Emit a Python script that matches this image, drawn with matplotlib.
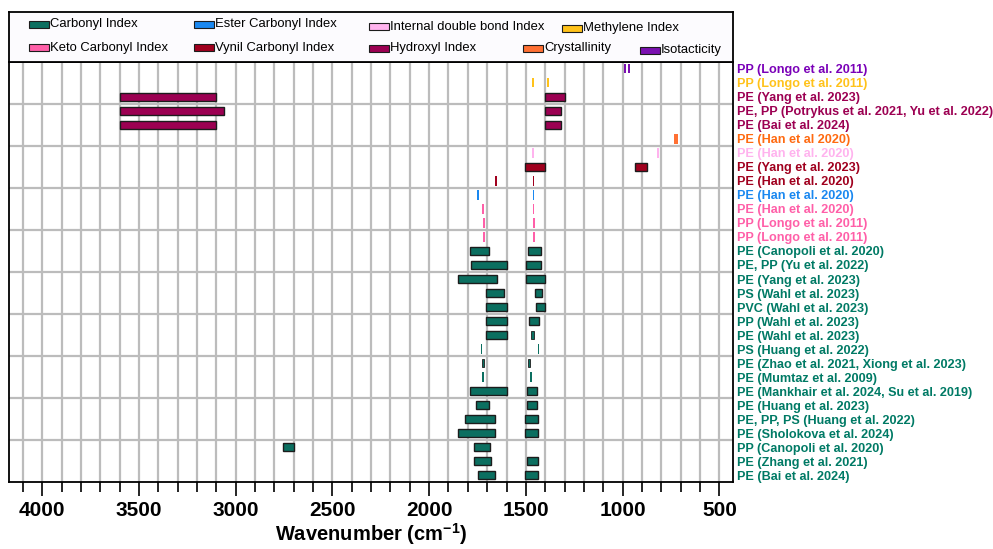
import matplotlib
matplotlib.use("Agg")
import matplotlib.pyplot as plt
from matplotlib.patches import Rectangle
from matplotlib.ticker import MultipleLocator

plt.rcParams['font.family'] = ['Liberation Sans', 'DejaVu Sans']
plt.rcParams['mathtext.default'] = 'regular'

# ---------------- data ----------------
categories = ['Carbonyl Index', 'Ester Carbonyl Index', 'Internal double bond Index',
              'Methylene Index', 'Keto Carbonyl Index', 'Vynil Carbonyl Index',
              'Hydroxyl Index', 'Crystallinity', 'Isotacticity']

row_labels = [
    'PP (Longo et al. 2011)',
    'PP (Longo et al. 2011)',
    'PE (Yang et al. 2023)',
    'PE, PP (Potrykus et al. 2021, Yu et al. 2022)',
    'PE (Bai et al. 2024)',
    'PE (Han et al 2020)',
    'PE (Han et al. 2020)',
    'PE (Yang et al. 2023)',
    'PE (Han et al. 2020)',
    'PE (Han et al. 2020)',
    'PE (Han et al. 2020)',
    'PP (Longo et al. 2011)',
    'PP (Longo et al. 2011)',
    'PE (Canopoli et al. 2020)',
    'PE, PP (Yu et al. 2022)',
    'PE (Yang et al. 2023)',
    'PS (Wahl et al. 2023)',
    'PVC (Wahl et al. 2023)',
    'PP (Wahl et al. 2023)',
    'PE (Wahl et al. 2023)',
    'PS (Huang et al. 2022)',
    'PE (Zhao et al. 2021, Xiong et al. 2023)',
    'PE (Mumtaz et al. 2009)',
    'PE (Mankhair et al. 2024, Su et al. 2019)',
    'PE (Huang et al. 2023)',
    'PE, PP, PS (Huang et al. 2022)',
    'PE (Sholokova et al. 2024)',
    'PP (Canopoli et al. 2020)',
    'PE (Zhang et al. 2021)',
    'PE (Bai et al. 2024)',
]

row_category = [
    'Isotacticity', 'Methylene Index', 'Hydroxyl Index', 'Hydroxyl Index', 'Hydroxyl Index',
    'Crystallinity', 'Internal double bond Index', 'Vynil Carbonyl Index', 'Vynil Carbonyl Index',
    'Ester Carbonyl Index', 'Keto Carbonyl Index', 'Keto Carbonyl Index', 'Keto Carbonyl Index',
] + ['Carbonyl Index'] * 17

# wavenumber ranges (high, low) drawn as boxes
row_bands = [
    [], [],
    [(3600, 3100), (1400, 1300)],
    [(3600, 3060), (1400, 1320)],
    [(3600, 3100), (1400, 1320)],
    [], [],
    [(1505, 1400), (935, 875)],
    [], [], [], [], [],
    [(1790, 1690), (1490, 1420)],
    [(1785, 1600), (1500, 1420)],
    [(1850, 1650), (1500, 1400)],
    [(1705, 1615), (1455, 1418)],
    [(1705, 1600), (1450, 1400)],
    [(1705, 1600), (1485, 1430)],
    [(1705, 1600), (1474, 1460)],
    [],
    [(1727, 1715), (1488, 1478)],
    [],
    [(1790, 1600), (1495, 1440)],
    [(1760, 1690), (1495, 1440)],
    [(1815, 1660), (1505, 1435)],
    [(1850, 1660), (1503, 1436)],
    [(2755, 2700), (1770, 1685)],
    [(1770, 1680), (1495, 1438)],
    [(1745, 1660), (1505, 1436)],
]

# single wavenumbers drawn as thin marks
row_peaks = [
    [988, 966],
    [1464, 1386],
    [], [], [],
    [730, 718],
    [1464, 817],
    [],
    [1655, 1461],
    [1748, 1461],
    [1720, 1461],
    [1717, 1459],
    [1718, 1457],
    [], [], [], [], [], [], [],
    [1729, 1435],
    [],
    [1720, 1473],
    [], [], [], [], [], [], [],
]

# ---------------- styles ----------------
category_colors = {
    'Carbonyl Index': '#0b6f60',
    'Ester Carbonyl Index': '#1a88f0',
    'Internal double bond Index': '#ffb3ee',
    'Methylene Index': '#ffc21a',
    'Keto Carbonyl Index': '#ff5fa8',
    'Vynil Carbonyl Index': '#a0001e',
    'Hydroxyl Index': '#9c0052',
    'Crystallinity': '#ff7033',
    'Isotacticity': '#7a10b0',
}
label_colors = dict(category_colors)
label_colors['Carbonyl Index'] = '#007a65'
label_colors['Crystallinity'] = '#ff6a10'
label_colors['Isotacticity'] = '#7a00b8'

# legend layout (figure pixel coords: patch left x, row centre y)
legend_layout = [(29, 24.3), (193.5, 24.3), (369, 26.5), (561.5, 28.3),
                 (29, 47.7), (193.5, 47.7), (369, 48.5), (522.5, 48.5), (639.5, 50.0)]
legend_order = ['Carbonyl Index', 'Ester Carbonyl Index', 'Internal double bond Index',
                'Methylene Index', 'Keto Carbonyl Index', 'Vynil Carbonyl Index',
                'Hydroxyl Index', 'Crystallinity', 'Isotacticity']

W, H = 993, 549
fig = plt.figure(figsize=(W / 100, H / 100), dpi=100)

ax_l, ax_r, ax_t, ax_b = 9.3, 733.3, 61.7, 482.3
ax = fig.add_axes([ax_l / W, 1 - ax_b / H, (ax_r - ax_l) / W, (ax_b - ax_t) / H])

n = len(row_labels)
bar_h = 0.58
peak_h = 0.68
peak_w = 9

for i in range(n):
    col = category_colors[row_category[i]]
    y = i + 0.5
    for hi, lo in row_bands[i]:
        lw = 1.0 if hi - lo > 30 else 0.6
        ax.barh(y, hi - lo, left=lo, height=bar_h, color=col,
                edgecolor='#1c1c1c', linewidth=lw, zorder=3)
    for p in row_peaks[i]:
        ax.barh(y, peak_w, left=p - peak_w / 2, height=peak_h, color=col,
                edgecolor='none', linewidth=0, zorder=3)

ax.set_xlim(4170, 428)
ax.set_ylim(n, 0)

ax.xaxis.set_major_locator(MultipleLocator(500))
ax.xaxis.set_minor_locator(MultipleLocator(100))
ax.set_xticks(range(4000, 499, -500))
ax.tick_params(axis='x', which='major', length=10, width=1.2, pad=3.5,
               labelsize=15, direction='out')
ax.tick_params(axis='x', which='minor', length=7, width=1.2, direction='out')
for lab in ax.get_xticklabels():
    lab.set_fontweight('bold')

ax.yaxis.tick_right()
ax.set_yticks([i + 0.5 for i in range(n)])
ax.set_yticklabels(row_labels)
ax.set_yticks(range(3, n, 3), minor=True)
ax.tick_params(axis='y', which='both', length=0, pad=2.6, labelsize=9.1)
for i, lab in enumerate(ax.get_yticklabels()):
    lab.set_color(label_colors[row_category[i]])
    lab.set_fontweight('bold')

ax.grid(which='both', axis='x', color='#bcbcbc', linewidth=1.6, zorder=0)
ax.grid(which='minor', axis='y', color='#bcbcbc', linewidth=1.6, zorder=0)
ax.set_axisbelow(True)
for s in ax.spines.values():
    s.set_linewidth(1.3)
    s.set_color('black')

ax.set_xlabel('Wavenumber (cm$^{-1}$)', fontsize=14.5, fontweight='bold', labelpad=0.5)

# legend panel
lax = fig.add_axes([ax_l / W, 1 - ax_t / H, (ax_r - ax_l) / W, (ax_t - 12) / H])
lax.set_xlim(ax_l, ax_r)
lax.set_ylim(ax_t, 12)
lax.set_facecolor('#fcfbfe')
lax.set_xticks([])
lax.set_yticks([])
for s in lax.spines.values():
    s.set_linewidth(1.3)
    s.set_color('black')
for name, (px, py) in zip(legend_order, legend_layout):
    lax.add_patch(Rectangle((px, py - 3.5), 20, 7, facecolor=category_colors[name],
                            edgecolor='#1c1c1c', linewidth=0.8))
    lax.text(px + 21.5, py, name, fontsize=9.4, va='center', ha='left', color='black')

fig.savefig('out.png', dpi=100)
